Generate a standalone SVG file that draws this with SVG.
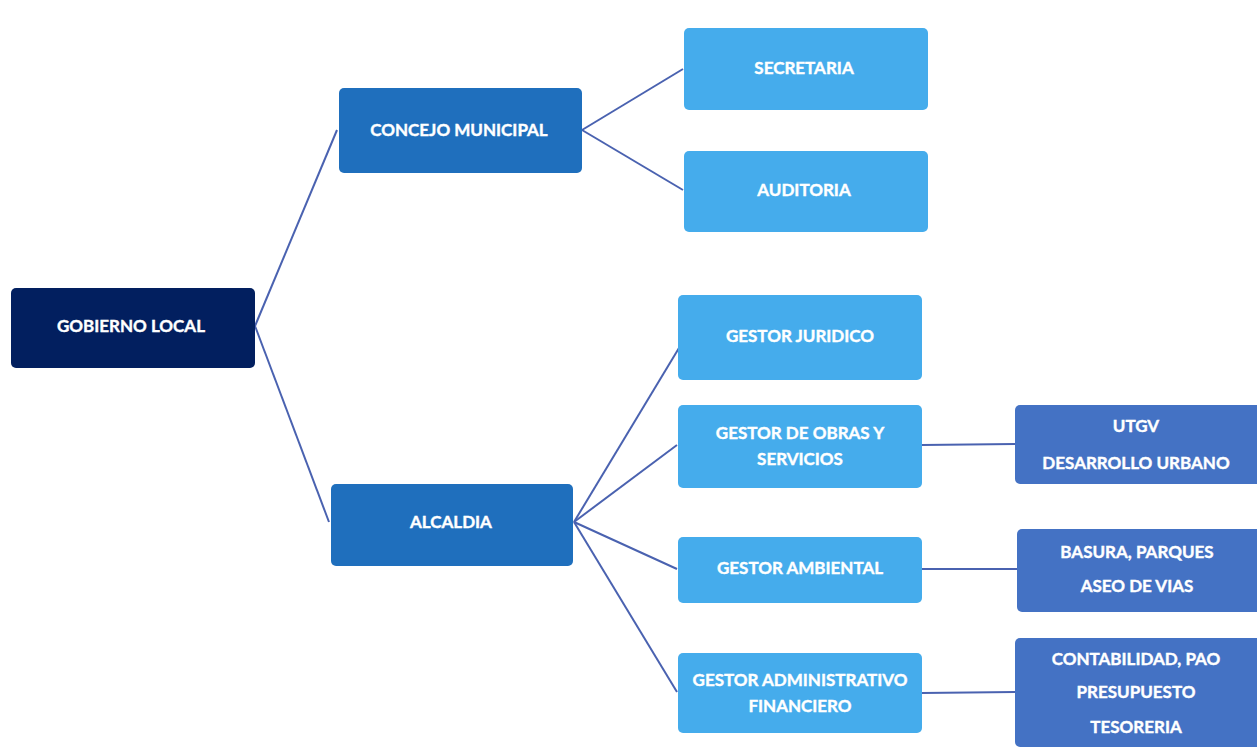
<svg xmlns="http://www.w3.org/2000/svg" width="1257" height="750" viewBox="0 0 1257 750">
<style>
.t{font-family:Lato,"Open Sans","Liberation Sans",sans-serif;font-weight:700;font-size:17px;fill:#ffffff;stroke:#ffffff;stroke-width:0.4;text-anchor:middle;dominant-baseline:central}
.l1{fill:#021f5f}
.l2{fill:#1f6fbd}
.l3{fill:#45acec}
.l4{fill:#4472c4}
.c{stroke:#4a62b0;stroke-width:2;fill:none}
</style>
<rect width="1257" height="750" fill="#ffffff"/>
<g id="connectors">
<path class="c" d="M255,326 L337,130"/>
<path class="c" d="M255,326 L329,522"/>
<path class="c" d="M582,130 L683,69"/>
<path class="c" d="M582,130 L683,190"/>
<path class="c" d="M574,522 L682,343"/>
<path class="c" d="M574,522 L677,445"/>
<path class="c" d="M574,522 L677,569"/>
<path class="c" d="M574,522 L677,692"/>
<path class="c" d="M922,445 L1015,444"/>
<path class="c" d="M922,569 L1017,569"/>
<path class="c" d="M922,693 L1015,692"/>
</g>
<g id="gobierno-local"><rect class="l1" x="11" y="288" width="244" height="80" rx="5"/><text class="t" x="131" y="325">GOBIERNO LOCAL</text></g>
<g id="concejo-municipal"><rect class="l2" x="339" y="88" width="243" height="85" rx="5"/><text class="t" x="459" y="129">CONCEJO MUNICIPAL</text></g>
<g id="secretaria"><rect class="l3" x="684" y="28" width="244" height="82" rx="5"/><text class="t" x="804" y="67">SECRETARIA</text></g>
<g id="auditoria"><rect class="l3" x="684" y="151" width="244" height="81" rx="5"/><text class="t" x="804" y="189">AUDITORIA</text></g>
<g id="alcaldia"><rect class="l2" x="331" y="484" width="242" height="82" rx="5"/><text class="t" x="451" y="521">ALCALDIA</text></g>
<g id="gestor-juridico"><rect class="l3" x="678" y="295" width="244" height="85" rx="5"/><text class="t" x="800" y="335">GESTOR JURIDICO</text></g>
<g id="gestor-obras"><rect class="l3" x="678" y="405" width="244" height="83" rx="5"/><text class="t" x="800" y="432">GESTOR DE OBRAS Y</text><text class="t" x="800" y="458">SERVICIOS</text></g>
<g id="gestor-ambiental"><rect class="l3" x="678" y="537" width="244" height="66" rx="5"/><text class="t" x="800" y="567">GESTOR AMBIENTAL</text></g>
<g id="gestor-administrativo"><rect class="l3" x="678" y="653" width="244" height="80" rx="5"/><text class="t" x="800" y="679">GESTOR ADMINISTRATIVO</text><text class="t" x="800" y="705">FINANCIERO</text></g>
<g id="utgv"><rect class="l4" x="1015" y="405" width="250" height="79" rx="5"/><text class="t" x="1136" y="425">UTGV</text><text class="t" x="1136" y="462">DESARROLLO URBANO</text></g>
<g id="basura"><rect class="l4" x="1017" y="529" width="248" height="83" rx="5"/><text class="t" x="1137" y="551">BASURA, PARQUES</text><text class="t" x="1137" y="585">ASEO DE VIAS</text></g>
<g id="contabilidad"><rect class="l4" x="1015" y="638" width="250" height="109" rx="5"/><text class="t" x="1136" y="658">CONTABILIDAD, PAO</text><text class="t" x="1136" y="691">PRESUPUESTO</text><text class="t" x="1136" y="726">TESORERIA</text></g>
</svg>
